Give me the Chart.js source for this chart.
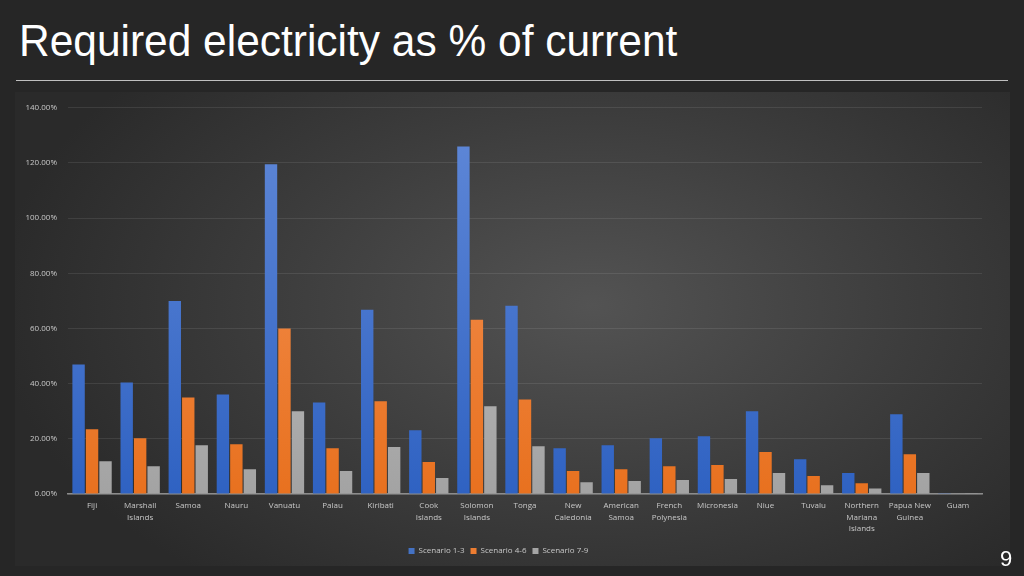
<!DOCTYPE html>
<html>
<head>
<meta charset="utf-8">
<script src="https://cdn.jsdelivr.net/npm/chart.js@4"></script>
<style>
  html, body { margin: 0; padding: 0; }
  body {
    width: 1024px; height: 576px; overflow: hidden;
    background: #262626; position: relative;
    font-family: "Liberation Sans", Arial, sans-serif;
  }
  #title {
    position: absolute; left: 19px; top: 16px;
    color: #ffffff; font-size: 44px; white-space: nowrap;
    transform: scaleX(0.965); transform-origin: left top;
  }
  #rule {
    position: absolute; left: 16px; top: 80px; width: 992px; height: 1px;
    background: #bfbfbf;
  }
  #panel {
    position: absolute; left: 15px; top: 92px; width: 995px; height: 474px;
    background: radial-gradient(ellipse 60% 75% at 58% 45%, #535353 0%, #3c3c3c 55%, #2a2a2a 100%);
  }
  #pageNum {
    position: absolute; left: 1000px; top: 546px;
    color: #ffffff; font-size: 22px;
  }
</style>
</head>
<body>
<div id="title">Required electricity as % of current</div>
<div id="rule"></div>
<div id="panel"><canvas id="chart"></canvas></div>
<div id="pageNum">9</div>
<script>
// Chart data
const categories = [
  ["Fiji"], ["Marshall", "Islands"], ["Samoa"], ["Nauru"], ["Vanuatu"], ["Palau"],
  ["Kiribati"], ["Cook", "Islands"], ["Solomon", "Islands"], ["Tonga"],
  ["New", "Caledonia"], ["American", "Samoa"], ["French", "Polynesia"], ["Micronesia"],
  ["Niue"], ["Tuvalu"], ["Northern", "Mariana", "Islands"], ["Papua New", "Guinea"], ["Guam"],
];
const scenario13 = [46.9, 40.4, 70.0, 36.1, 119.5, 33.2, 66.8, 23.1, 126.0, 68.2, 16.6, 17.7, 20.2, 20.9, 30.0, 12.6, 7.6, 28.9, 0.3];
const scenario46 = [23.5, 20.2, 35.0, 18.0, 60.0, 16.6, 33.6, 11.6, 63.2, 34.3, 8.3, 9.0, 10.1, 10.5, 15.2, 6.5, 3.9, 14.4, 0.15];
const scenario79 = [11.9, 10.1, 17.7, 9.0, 30.0, 8.3, 17.0, 5.8, 31.8, 17.3, 4.3, 4.7, 5.1, 5.4, 7.6, 3.2, 2.0, 7.6, 0.1];
const yTicks = [0, 20, 40, 60, 80, 100, 120, 140];

// vertical gradient fill for the bars, Excel style
const barFill = (top, bottom) => (ctx) => {
  const area = ctx.chart.chartArea;
  if (!area) return bottom;
  const g = ctx.chart.ctx.createLinearGradient(0, area.top, 0, area.bottom);
  g.addColorStop(0, top);
  g.addColorStop(1, bottom);
  return g;
};

const labelFont = { family: "'Open Sans', 'Liberation Sans', sans-serif", size: 8 };

const initChart = () => {
  const ctx = document.getElementById("chart").getContext("2d");
  new Chart(ctx, {
    type: "bar",
    data: {
      labels: categories,
      datasets: [
        { label: "Scenario 1-3", data: scenario13, backgroundColor: barFill("#6189d8", "#2f62c2"), legendColor: "#4472c4" },
        { label: "Scenario 4-6", data: scenario46, backgroundColor: barFill("#f5955a", "#e8711f"), legendColor: "#ed7d31" },
        { label: "Scenario 7-9", data: scenario79, backgroundColor: barFill("#c8c8c8", "#a3a3a3"), legendColor: "#a5a5a5" },
      ],
    },
    options: {
      responsive: false,
      animation: false,
      layout: { padding: { left: 0, right: 28, top: 11, bottom: 1 } },
      datasets: { bar: { categoryPercentage: 0.84, barPercentage: 0.92 } },
      scales: {
        x: {
          grid: { display: false },
          border: { display: true, color: "#8c8c8c", width: 1.5 },
          ticks: { color: "#c8c8c8", font: { ...labelFont, lineHeight: 1.45 }, maxRotation: 0, autoSkip: false, padding: -2 },
          afterFit: (scale) => { scale.height = 47; },
        },
        y: {
          min: 0, max: 140,
          afterBuildTicks: (scale) => { scale.ticks = yTicks.map((v) => ({ value: v })); },
          grid: { color: "rgba(255,255,255,0.09)", drawTicks: false },
          border: { display: false },
          ticks: { color: "#c8c8c8", font: labelFont, padding: 11, callback: (v) => v.toFixed(2) + "%" },
          afterFit: (scale) => { scale.width = 53; },
        },
      },
      plugins: {
        tooltip: { enabled: false },
        legend: {
          position: "bottom",
          labels: {
            color: "#c8c8c8", font: labelFont, boxWidth: 6, boxHeight: 6, padding: 6,
            generateLabels: (chart) => chart.data.datasets.map((ds, i) => ({
              text: ds.label, fillStyle: ds.legendColor, strokeStyle: ds.legendColor,
              lineWidth: 0, datasetIndex: i, fontColor: "#c8c8c8",
            })),
          },
        },
      },
    },
  });
};

const canvas = document.getElementById("chart");
canvas.width = 995;
canvas.height = 474;
initChart();
</script>
</body>
</html>
